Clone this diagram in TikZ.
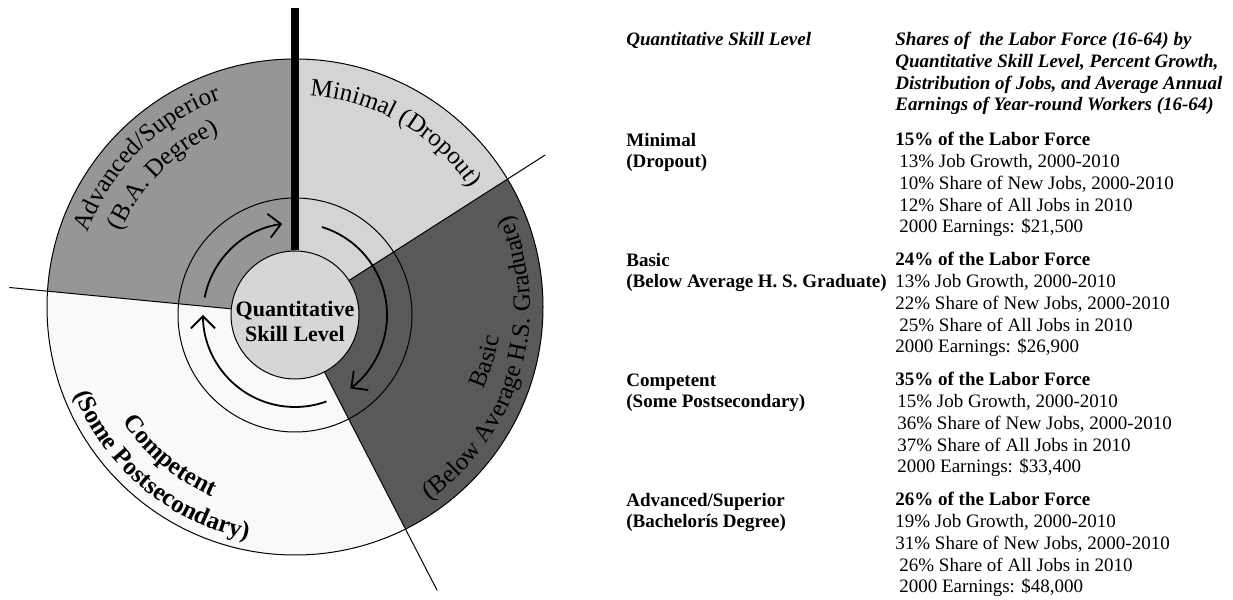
\documentclass[tikz,border=0pt]{standalone}
\usepackage{fontspec}
\setmainfont{Liberation Serif}
\usetikzlibrary{arrows.meta,decorations.text}

\definecolor{minimalgray}{gray}{0.83}
\definecolor{basicgray}{gray}{0.35}
\definecolor{competentgray}{gray}{0.975}
\definecolor{advancedgray}{gray}{0.59}
\definecolor{hubgray}{gray}{0.84}

\newcommand{\tabfont}{\fontsize{9.5}{10.9}\selectfont}
\newcommand{\wedgefont}{\fontsize{12.5}{14}\selectfont}

\tikzset{
  thinline/.style={draw=black, line width=0.5pt},
  ringarrow/.style={line width=0.9pt, -{Straight Barb[length=6pt,width=12pt]}},
  hub/.style={circle, draw=black, line width=0.5pt, fill=hubgray, minimum size=64pt, inner sep=0pt},
  hubtext/.style={align=center, inner sep=0pt, font=\fontsize{11}{12.5}\selectfont\bfseries},
  arclabel/.style={decorate, decoration={text along path, text align=center}},
  tabtext/.style={anchor=base west, align=left, inner sep=0pt, font=\tabfont},
  tabhead/.style={tabtext, font=\tabfont\bfseries\itshape},
  tabname/.style={tabtext, font=\tabfont\bfseries},
}

\begin{document}
\begin{tikzpicture}[x=0.5pt, y=0.5pt]
\useasboundingbox (0,0) rectangle (1233,600);

\coordinate (oc) at (295,293);
\coordinate (ic) at (295,285);
\coordinate (bartop) at (295,592);
\path (ic) ++(32.6:297) coordinate (minbasend);
\path (ic) ++(-62.7:310) coordinate (bascompend);
\path (ic) ++(174.5:287) coordinate (compadvend);

% wedges
\foreach \from/\to/\tone in {90/32.6/minimalgray, 32.6/-62.7/basicgray, -62.7/-185.5/competentgray, 174.5/90/advancedgray}
{
  \begin{scope}
    \clip (ic) -- ++(\from:400) arc[start angle=\from, end angle=\to, radius=400] -- cycle;
    \fill[\tone] (oc) circle[radius=248];
  \end{scope}
}
\draw[thinline] (oc) circle[radius=248];
\draw[thinline] (ic) circle[radius=117];

% arrows round the hub
\draw[ringarrow] (ic) ++(169:92) arc[start angle=169, end angle=98, radius=92];
\draw[ringarrow] (ic) ++(73:92) arc[start angle=73, end angle=-53, radius=92];
\draw[ringarrow] (ic) ++(-70:92) arc[start angle=-70, end angle=-180, radius=92];

\node[hub] (hub) at (ic) {};
\node[hubtext] (hublabel) at (295,279) {Quantitative\\Skill Level};

\draw[thinline] (hub) -- (minbasend);
\draw[thinline] (hub) -- (bascompend);
\draw[thinline] (hub) -- (compadvend);
\draw[line width=4pt] (hub.north) -- (bartop);

% wedge labels
\path[arclabel, decoration={text={|\wedgefont|Minimal (Dropout)}}]
  (oc) ++(110:212) arc[start angle=110, end angle=10, radius=212];
\path[arclabel, decoration={text={|\wedgefont|Advanced/Superior}}]
  (oc) ++(200:220) arc[start angle=200, end angle=70, radius=220];
\path[arclabel, decoration={text={|\wedgefont|(B.A. Degree)}}]
  (oc) ++(200:190) arc[start angle=200, end angle=70, radius=190];
\path[arclabel, decoration={text={|\wedgefont|Basic}}]
  (oc) ++(-76:206) arc[start angle=-76, end angle=44, radius=206];
\path[arclabel, decoration={text={|\wedgefont|(Below Average H.S. Graduate)}}]
  (oc) ++(-76:235) arc[start angle=-76, end angle=44, radius=235];
\path[arclabel, decoration={text={|\wedgefont\bfseries|Competent}}]
  (oc) ++(170:207) arc[start angle=170, end angle=290, radius=207];
\path[arclabel, decoration={text={|\wedgefont\bfseries|(Some Postsecondary)}}]
  (oc) ++(170:237) arc[start angle=170, end angle=290, radius=237];

% table (base west = baseline of the last line)
\node[tabhead] (headleft) at (626,554) {Quantitative Skill Level};
\node[tabhead] (headright) at (895,489) {Shares of \ the Labor Force (16-64) by\\Quantitative Skill Level, Percent Growth,\\Distribution of Jobs, and Average Annual\\Earnings of Year-round Workers (16-64)};

\node[tabname] (minimalname) at (626,432) {Minimal\\(Dropout)};
\node[tabtext] (minimalfacts) at (895,367) {\textbf{15\% of the Labor Force}\\\hspace*{2pt}13\% Job Growth, 2000-2010\\\hspace*{2pt}10\% Share of New Jobs, 2000-2010\\\hspace*{2pt}12\% Share of All Jobs in 2010\\\hspace*{2pt}2000 Earnings: \$21,500};

\node[tabname] (basicname) at (626,312) {Basic\\(Below Average H. S. Graduate)};
\node[tabtext] (basicfacts) at (895,247) {\textbf{24\% of the Labor Force}\\13\% Job Growth, 2000-2010\\22\% Share of New Jobs, 2000-2010\\\hspace*{2pt}25\% Share of All Jobs in 2010\\2000 Earnings: \$26,900};

\node[tabname] (competentname) at (626,192) {Competent\\(Some Postsecondary)};
\node[tabtext] (competentfacts) at (895,127) {\textbf{35\% of the Labor Force}\\\hspace*{1pt}15\% Job Growth, 2000-2010\\\hspace*{1pt}36\% Share of New Jobs, 2000-2010\\\hspace*{1pt}37\% Share of All Jobs in 2010\\\hspace*{1pt}2000 Earnings: \$33,400};

\node[tabname] (advancedname) at (626,72) {Advanced/Superior\\(Bachelorís Degree)};
\node[tabtext] (advancedfacts) at (895,7) {\textbf{26\% of the Labor Force}\\19\% Job Growth, 2000-2010\\31\% Share of New Jobs, 2000-2010\\\hspace*{2pt}26\% Share of All Jobs in 2010\\\hspace*{2pt}2000 Earnings: \$48,000};
\end{tikzpicture}
\end{document}
